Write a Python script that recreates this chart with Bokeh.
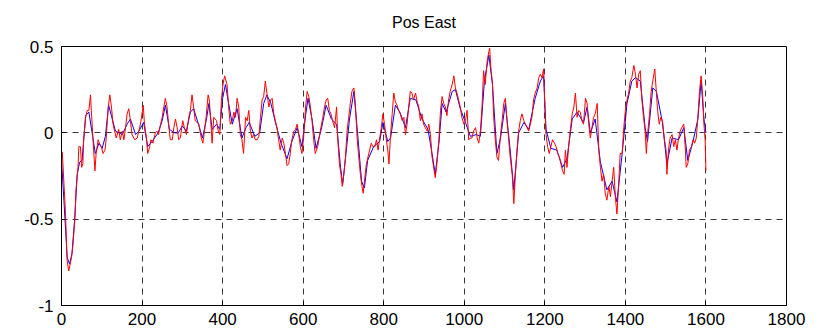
from bokeh.plotting import figure
from bokeh.models import Range1d, FixedTicker
from bokeh.embed import file_html
from bokeh.resources import INLINE

# Red (raw) series
red_x = [2,10,14,18,25,28,33,36,41,43,47,50,53,55,60,64,68,72,74,78,83,86,91,94,99,103,108,111,116,120,124,128,132,136,142,146,151,155,159,163,167,171,175,182,188,192,
         196,203,206,211,214,219,222,227,233,237,241,246,250,254,258,262,266,270,275,279,283,287,291,295,301,305,310,316,320,324,328,332,337,341,347,351,355,359,364,367,371,374,378,385,389,393,397,401,405,
         411,415,419,424,428,432,436,440,444,448,452,457,461,465,469,473,477,481,486,490,494,498,502,506,510,515,519,523,527,531,535,539,543,548,552,556,560,564,568,572,577,581,585,589,593,597,601,606,610,614,
         618,622,626,630,633,636,641,644,649,653,657,661,665,669,673,678,683,686,690,694,697,701,705,709,713,717,721,726,730,734,738,742,746,749,753,757,761,765,769,773,778,782,786,790,794,798,802,806,810,813,817,821,825,
         829,833,837,841,846,850,854,858,862,866,870,874,879,883,887,891,895,899,903,908,912,916,920,924,928,932,937,941,945,949,953,957,961,965,970,974,978,982,986,990,994,999,1003,1007,1011,1015,1019,1023,1028,1032,1036,
         1040,1044,1048,1052,1057,1061,1063,1066,1070,1073,1077,1081,1085,1090,1094,1098,1102,1106,1110,1114,1119,1123,1127,1131,1135,1139,1143,1148,1152,1156,1160,1164,1168,1172,1176,1181,1185,1189,1193,1197,1200,1203,1207,1211,1215,1219,1224,1228,1232,1236,1240,1244,1248,
         1251,1255,1259,1263,1268,1272,1276,1280,1284,1288,1292,1296,1301,1305,1309,1313,1317,1321,1325,1330,1334,1338,1342,1346,1350,1354,1359,1363,1367,1371,1375,1379,1383,1387,1392,1396,1400,1404,1408,1412,1416,1421,1425,1429,1433,
         1437,1441,1445,1449,1452,1455,1460,1464,1468,1473,1477,1480,1484,1488,1492,1497,1501,1503,1507,1511,1516,1520,1524,1528,1532,1536,1540,1545,1549,1551,1555,1559,1564,1568,1572,1576,1580,1584,1588,1592,1595,1598,1600]
red_y = [-0.11,-0.47,-0.74,-0.80,-0.72,-0.66,-0.51,-0.33,-0.20,-0.08,-0.08,-0.20,-0.18,-0.04,0.09,0.13,0.13,0.22,0.13,-0.03,-0.22,-0.12,-0.04,-0.06,-0.08,-0.12,-0.10,-0.03,0.15,0.22,0.15,0.05,0.01,-0.03,0.02,-0.04,0.01,-0.04,0.03,0.11,0.14,0.07,-0.01,-0.04,-0.03,0.01,
         0.05,0.16,0.05,-0.03,-0.12,-0.08,-0.04,-0.06,0.0,0.01,-0.01,0.05,0.09,0.15,0.20,0.15,0.05,-0.04,-0.04,0.03,0.08,0.03,-0.04,-0.03,0.07,0.03,-0.01,0.09,0.13,0.22,0.15,0.07,0.06,0.05,-0.03,-0.06,0.01,0.09,0.22,0.19,0.05,-0.06,0.09,0.07,0.01,-0.01,0.19,0.28,0.33,
         0.28,0.15,0.05,0.07,0.12,0.09,0.20,0.15,-0.01,-0.04,-0.12,0.09,0.07,0.13,0.01,-0.03,-0.01,-0.04,-0.04,-0.02,0.09,0.19,0.21,0.30,0.23,0.15,0.19,0.20,0.11,0.07,0.03,-0.04,-0.10,-0.03,-0.06,-0.12,-0.19,-0.18,-0.12,-0.04,0.01,0.02,0.05,-0.01,-0.08,-0.12,-0.03,0.15,0.24,0.21,
         0.15,0.07,-0.04,-0.12,-0.10,-0.08,-0.01,0.03,0.09,0.15,0.19,0.20,0.13,0.11,0.07,0.03,0.15,-0.04,-0.18,-0.24,-0.31,-0.24,-0.14,0.01,0.09,0.17,0.24,0.26,0.15,-0.03,-0.14,-0.24,-0.31,-0.35,-0.26,-0.18,-0.14,-0.10,-0.06,-0.08,-0.08,-0.04,-0.10,-0.03,0.03,0.11,0.05,-0.03,-0.10,-0.18,-0.01,0.11,0.23,
         0.18,0.16,0.13,0.11,0.07,0.09,-0.01,0.05,0.15,0.24,0.23,0.19,0.23,0.18,0.15,0.07,0.11,0.05,0.03,0.01,0.05,-0.01,-0.14,-0.20,-0.26,-0.18,-0.04,0.13,0.21,0.17,0.15,0.10,0.19,0.24,0.28,0.33,0.26,0.23,0.19,0.15,0.09,0.05,0.07,0.13,-0.04,-0.03,-0.03,0.01,0.03,-0.03,-0.06,
         0.01,0.15,0.36,0.28,0.42,0.47,0.49,0.38,0.28,0.09,-0.04,-0.14,-0.16,-0.01,0.07,0.17,0.20,0.07,-0.03,-0.14,-0.24,-0.41,-0.24,-0.10,0.01,0.07,0.11,0.07,0.05,0.03,0.01,0.05,0.09,0.19,0.23,0.26,0.32,0.34,0.32,0.37,0.15,-0.01,-0.08,-0.12,-0.08,-0.04,-0.06,-0.08,-0.12,-0.14,-0.18,-0.22,-0.24,
         -0.10,-0.20,-0.08,0.01,0.11,0.15,0.23,0.09,0.13,0.12,0.07,0.05,0.20,0.17,0.05,-0.03,0.03,0.09,0.11,0.17,-0.10,-0.20,-0.28,-0.24,-0.35,-0.39,-0.31,-0.37,-0.28,-0.20,-0.37,-0.47,-0.31,-0.12,-0.12,0.03,0.13,0.19,0.23,0.30,0.32,0.39,0.34,0.26,0.34,
         0.36,0.19,0.09,0.01,-0.12,-0.01,0.11,0.24,0.30,0.37,0.23,0.13,0.05,0.09,0.07,-0.04,-0.10,-0.24,-0.10,-0.03,-0.01,-0.08,-0.04,-0.10,-0.03,0.01,0.03,0.05,-0.10,-0.20,-0.18,-0.10,-0.08,-0.04,-0.06,-0.03,0.09,0.24,0.33,0.21,0.05,-0.04,-0.22]

# Blue (smoothed) series
blue_x = [0,6,14,20,26,33,39,45,51,60,68,76,84,93,101,109,117,126,134,151,163,171,184,192,204,214,225,240,250,258,268,280,290,300,310,320,328,340,350,360,366,374,385,393,400,407,415,424,436,448,458,466,480,492,502,510,520,530,545,560,572,585,597,606,612,622,632,645,657,670,683,692,698,705,715,726,735,745,752,760,775,790,798,810,817,829,840,854,866,880,895,910,920,928,937,945,955,970,978,990,1003,1015,1030,1040,1050,1061,1070,1081,1090,1102,1114,1123,1135,1148,1160,1176,1189,1197,1203,1215,1230,1244,1255,1268,1280,1296,1305,1313,1325,1338,1354,1367,1379,1392,1404,1416,1425,1437,1449,1455,1468,1477,1492,1503,1516,1532,1545,1555,1568,1580,1588,1595,1600]
blue_y = [-0.16,-0.39,-0.72,-0.76,-0.70,-0.49,-0.24,-0.17,-0.16,0.10,0.12,0.0,-0.12,-0.06,-0.09,-0.02,0.16,0.08,0.01,-0.01,0.05,0.08,-0.01,0.01,0.06,-0.08,-0.05,0.0,0.07,0.16,0.02,0.0,0.0,0.04,0.01,0.12,0.14,0.05,-0.03,0.08,0.17,0.02,0.05,0.02,0.20,0.28,0.17,0.05,0.14,-0.03,0.03,0.06,-0.02,0.0,0.17,0.22,0.17,0.07,-0.06,-0.15,-0.05,0.03,-0.08,0.10,0.20,0.08,-0.09,0.02,0.16,0.08,0.05,-0.18,-0.30,-0.15,0.08,0.24,0.0,-0.28,-0.32,-0.16,-0.08,-0.05,0.06,-0.05,-0.03,0.16,0.12,0.03,0.20,0.19,0.08,0.02,-0.12,-0.24,-0.06,0.17,0.12,0.24,0.25,0.14,0.06,-0.02,-0.01,-0.02,0.30,0.45,0.28,-0.12,-0.03,0.17,-0.10,-0.33,0.0,0.06,0.02,0.20,0.30,0.33,0.02,-0.09,-0.10,-0.20,-0.15,0.08,0.12,0.06,0.15,0.0,0.08,-0.17,-0.33,-0.28,-0.40,-0.12,0.17,0.30,0.32,0.30,0.03,-0.05,0.26,0.24,0.06,-0.18,-0.03,-0.04,0.03,-0.16,-0.05,0.08,0.30,0.08,0.0]

x_ticks = [0, 200, 400, 600, 800, 1000, 1200, 1400, 1600, 1800]
y_ticks = [-1, -0.5, 0, 0.5]
y_labels = ["-1", "-0.5", "0", "0.5"]
title_text = "Pos East"

FONT = "Liberation Sans"

p = figure(width=820, height=331, output_backend="svg", toolbar_location=None,
           x_range=Range1d(0, 1800), y_range=Range1d(-1, 0.5),
           min_border_left=61, min_border_right=34, min_border_top=46, min_border_bottom=26,
           title=title_text)
p.background_fill_color = "white"
p.border_fill_color = "white"
p.outline_line_color = "black"
p.outline_line_width = 1

p.title.align = "center"
p.title.vertical_align = "top"
p.title.text_font = FONT
p.title.text_font_size = "16px"
p.title.text_font_style = "normal"
p.title.text_color = "black"
p.title.standoff = 27

p.xaxis.ticker = FixedTicker(ticks=x_ticks)
p.yaxis.ticker = FixedTicker(ticks=y_ticks)
p.yaxis.major_label_overrides = {t: l for t, l in zip(y_ticks, y_labels)}
p.xaxis.major_label_overrides = {t: str(t) for t in x_ticks}
for ax in (p.xaxis, p.yaxis):
    ax.major_tick_in = 4
    ax.major_tick_out = 0
    ax.minor_tick_line_color = None
    ax.axis_line_color = "black"
    ax.major_tick_line_color = "black"
    ax.major_label_text_font = FONT
    ax.major_label_text_font_size = "17px"
    ax.major_label_text_color = "black"
p.xaxis.major_label_standoff = 7
p.yaxis.major_label_standoff = 8

p.xgrid.ticker = FixedTicker(ticks=x_ticks)
p.ygrid.ticker = FixedTicker(ticks=y_ticks)
for g in (p.xgrid, p.ygrid):
    g.grid_line_color = "#222222"
    g.grid_line_dash = "6 5"
    g.grid_line_width = 1
    g.grid_line_alpha = 0.9

p.line(blue_x, blue_y, line_color="#0000ff", line_width=1)
p.line(red_x, red_y, line_color="#ff0000", line_width=1)

open("out.html", "w").write(file_html(p, INLINE))
